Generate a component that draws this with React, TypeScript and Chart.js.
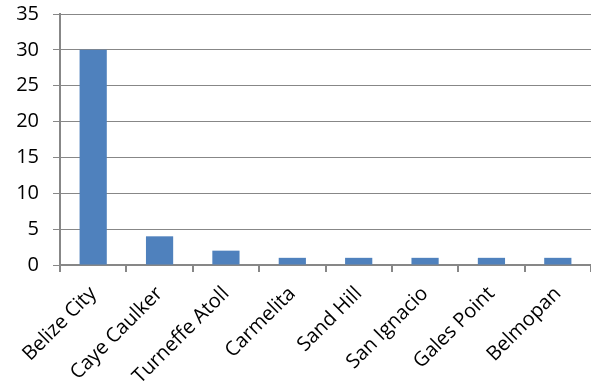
import React, { useEffect, useRef } from "react";
import { Chart, registerables } from "chart.js";

Chart.register(...registerables);

const categories = [
  "Belize City",
  "Caye Caulker",
  "Turneffe Atoll",
  "Carmelita",
  "Sand Hill",
  "San Ignacio",
  "Gales Point",
  "Belmopan",
];
const values = [30, 4, 2, 1, 1, 1, 1, 1];
const yMin = 0;
const yMax = 35;
const yStep = 5;

export default function App() {
  const ref = useRef<HTMLCanvasElement | null>(null);

  useEffect(() => {
    document.body.style.margin = "0";
    document.body.style.overflow = "hidden";
    const canvas = ref.current;
    if (!canvas) return;
    const font = { family: "'Open Sans', sans-serif", size: 20 };
    const chart = new Chart(canvas, {
      type: "bar",
      data: {
        labels: categories,
        datasets: [
          {
            data: values,
            backgroundColor: "#4F81BD",
            borderWidth: 0,
            categoryPercentage: 1,
            barPercentage: 0.41,
          },
        ],
      },
      options: {
        animation: false,
        responsive: false,
        maintainAspectRatio: false,
        layout: { padding: { top: 14, right: 0, left: 0, bottom: 0 } },
        plugins: { legend: { display: false }, tooltip: { enabled: false } },
        scales: {
          x: {
            grid: {
              display: true,
              drawOnChartArea: false,
              drawTicks: true,
              tickLength: 7,
              color: "#878787",
              lineWidth: 2,
            },
            border: { display: true, color: "#878787", width: 2 },
            ticks: {
              font,
              color: "#000",
              minRotation: 45,
              maxRotation: 45,
              padding: 10,
              autoSkip: false,
            },
            afterFit: (scale: any) => {
              scale.height = 124;
              scale.paddingLeft = 0;
              scale.paddingRight = 0;
            },
          },
          y: {
            min: yMin,
            max: yMax,
            grid: {
              color: "#878787",
              lineWidth: 1,
              tickLength: 7,
              drawTicks: true,
            },
            border: { display: true, color: "#878787", width: 2 },
            ticks: {
              stepSize: yStep,
              font,
              color: "#000",
              padding: 14,
            },
            afterFit: (scale: any) => {
              scale.width = 60;
              scale.paddingTop = 0;
              scale.paddingBottom = 0;
            },
          },
        },
      },
    });
    return () => chart.destroy();
  }, []);

  return (
    <div style={{ width: 591, height: 389 }}>
      <canvas ref={ref} width={591} height={389} style={{ display: "block" }} />
    </div>
  );
}
